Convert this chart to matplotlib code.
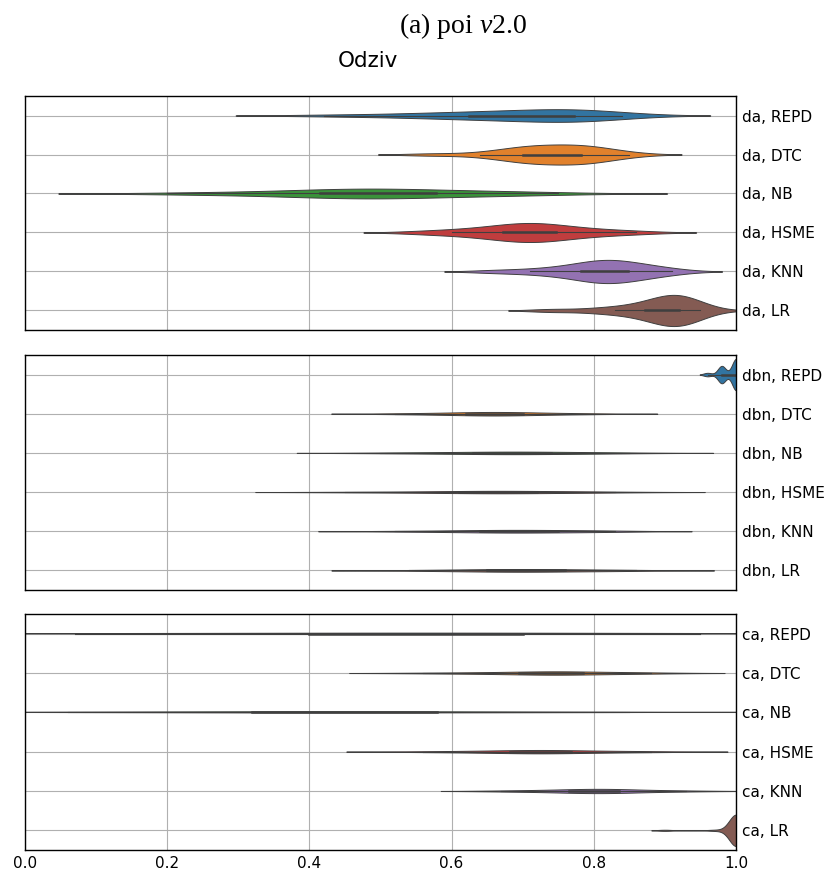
import numpy as np
import pandas as pd
import matplotlib
matplotlib.use("Agg")
import matplotlib.pyplot as plt
from matplotlib.collections import PolyCollection
import seaborn as sns

models = ["REPD", "DTC", "NB", "HSME", "KNN", "LR"]
groups = ["da", "dbn", "ca"]

# odziv (recall) po modelih, ocenjeno iz slike
da_REPD = [0.42, 0.50, 0.55, 0.58, 0.61, 0.63, 0.65, 0.67, 0.69, 0.71, 0.72, 0.74,
           0.75, 0.76, 0.77, 0.78, 0.79, 0.80, 0.82, 0.84]
da_DTC = [0.57, 0.64, 0.67, 0.69, 0.70, 0.70, 0.71, 0.72, 0.73, 0.74, 0.75, 0.76, 0.77,
          0.78, 0.78, 0.79, 0.80, 0.81, 0.82, 0.85]
da_NB = [0.20, 0.28, 0.33, 0.37, 0.40, 0.42, 0.44, 0.46, 0.47, 0.48, 0.50, 0.51, 0.53,
         0.55, 0.57, 0.60, 0.63, 0.66, 0.70, 0.75]
da_HSME = [0.56, 0.60, 0.63, 0.65, 0.67, 0.68, 0.69, 0.70, 0.71, 0.71, 0.72, 0.73, 0.74,
           0.75, 0.77, 0.79, 0.82, 0.86]
da_KNN = [0.66, 0.71, 0.74, 0.76, 0.78, 0.79, 0.80, 0.81, 0.81, 0.82, 0.82, 0.83, 0.84,
          0.85, 0.86, 0.87, 0.89, 0.91]
da_LR = [0.74, 0.80, 0.83, 0.85, 0.87, 0.88, 0.89, 0.90, 0.90, 0.91, 0.91, 0.92, 0.92,
         0.92, 0.93, 0.93, 0.94, 0.95]

# zgoščeni rezultati: vrednost in število ponovitev
dbn_REPD_vals = [0.96, 0.98, 1.0]
dbn_REPD_counts = [4, 20, 36]
dbn_DTC = [0.52, 0.57, 0.60, 0.62, 0.64, 0.65, 0.66, 0.67, 0.68, 0.70, 0.72, 0.75, 0.80]
dbn_NB = [0.50, 0.55, 0.60, 0.63, 0.65, 0.67, 0.68, 0.70, 0.72, 0.74, 0.77, 0.80, 0.85]
dbn_HSME = [0.45, 0.52, 0.58, 0.61, 0.63, 0.65, 0.66, 0.68, 0.70, 0.72, 0.75, 0.79, 0.83]
dbn_KNN = [0.52, 0.58, 0.62, 0.64, 0.66, 0.68, 0.69, 0.71, 0.73, 0.75, 0.78, 0.81, 0.83]
dbn_LR = [0.54, 0.60, 0.63, 0.65, 0.67, 0.69, 0.70, 0.72, 0.74, 0.76, 0.79, 0.83, 0.86]

ca_REPD = [0.07, 0.20, 0.33, 0.38, 0.42, 0.46, 0.50, 0.55, 0.60, 0.64, 0.68, 0.72, 0.78, 0.85, 0.95]
ca_DTC = [0.56, 0.62, 0.66, 0.69, 0.71, 0.73, 0.74, 0.75, 0.76, 0.77, 0.79, 0.82, 0.86, 0.88]
ca_NB = [0.06, 0.15, 0.25, 0.32, 0.37, 0.40, 0.43, 0.47, 0.52, 0.58, 0.65, 0.73, 0.85]
ca_HSME = [0.56, 0.62, 0.66, 0.69, 0.71, 0.72, 0.73, 0.74, 0.76, 0.79, 0.84, 0.88]
ca_KNN = [0.67, 0.72, 0.75, 0.77, 0.79, 0.80, 0.81, 0.82, 0.83, 0.85, 0.88, 0.93]
ca_LR_vals = [0.90, 0.97, 1.0]
ca_LR_counts = [1, 1, 28]

dbn_REPD = list(np.repeat(dbn_REPD_vals, dbn_REPD_counts))
ca_LR = list(np.repeat(ca_LR_vals, ca_LR_counts))

data = {
    "da": [da_REPD, da_DTC, da_NB, da_HSME, da_KNN, da_LR],
    "dbn": [dbn_REPD, dbn_DTC, dbn_NB, dbn_HSME, dbn_KNN, dbn_LR],
    "ca": [ca_REPD, ca_DTC, ca_NB, ca_HSME, ca_KNN, ca_LR],
}

plt.rcParams["mathtext.fontset"] = "custom"
plt.rcParams["mathtext.rm"] = "Liberation Serif"
plt.rcParams["mathtext.it"] = "Liberation Serif:italic"

fig = plt.figure(figsize=(8.32, 8.69), dpi=100)
boxes = [(0.030, 0.6203, 0.8546, 0.2692),
         (0.030, 0.3211, 0.8546, 0.2704),
         (0.030, 0.0219, 0.8546, 0.2715)]

colors = [sns.desaturate(c, 0.75) for c in sns.color_palette("tab10", 6)]

for i, g in enumerate(groups):
    ax = fig.add_axes(boxes[i])
    rows = []
    for m, vals in zip(models, data[g]):
        for v in vals:
            rows.append((g + ", " + m, v))
    df = pd.DataFrame(rows, columns=["model", "odziv"])
    # brez hue, da je "area" skupna za vse violine v panelu
    sns.violinplot(data=df, x="odziv", y="model", orient="h", color=colors[0],
                   linewidth=0.7, inner="box", density_norm="area",
                   inner_kws=dict(box_width=1.8, whis_width=0.8, marker=""),
                   ax=ax)
    polys = [c for c in ax.collections if isinstance(c, PolyCollection)]
    for p, c in zip(polys, colors):
        p.set_facecolor(c)
    ax.set_xlim(0, 1)
    ax.set_axisbelow(True)
    ax.grid(True, color="#b0b0b0", linewidth=0.8)
    ax.yaxis.tick_right()
    ax.tick_params(axis="both", length=0, labelsize=11, pad=4)
    ax.set_xlabel("")
    ax.set_ylabel("")
    for s in ax.spines.values():
        s.set_color("black")
        s.set_linewidth(1.0)
    if i < 2:
        ax.set_xticklabels([])
    else:
        ax.set_xticks([0.0, 0.2, 0.4, 0.6, 0.8, 1.0])

fig.text(0.557, 0.970, r"(a) poi $v$2.0", ha="center", va="center",
         fontsize=20, family="Liberation Serif")
fig.text(0.442, 0.930, "Odziv", ha="center", va="center", fontsize=15.5)

fig.savefig("out.png", dpi=100)
